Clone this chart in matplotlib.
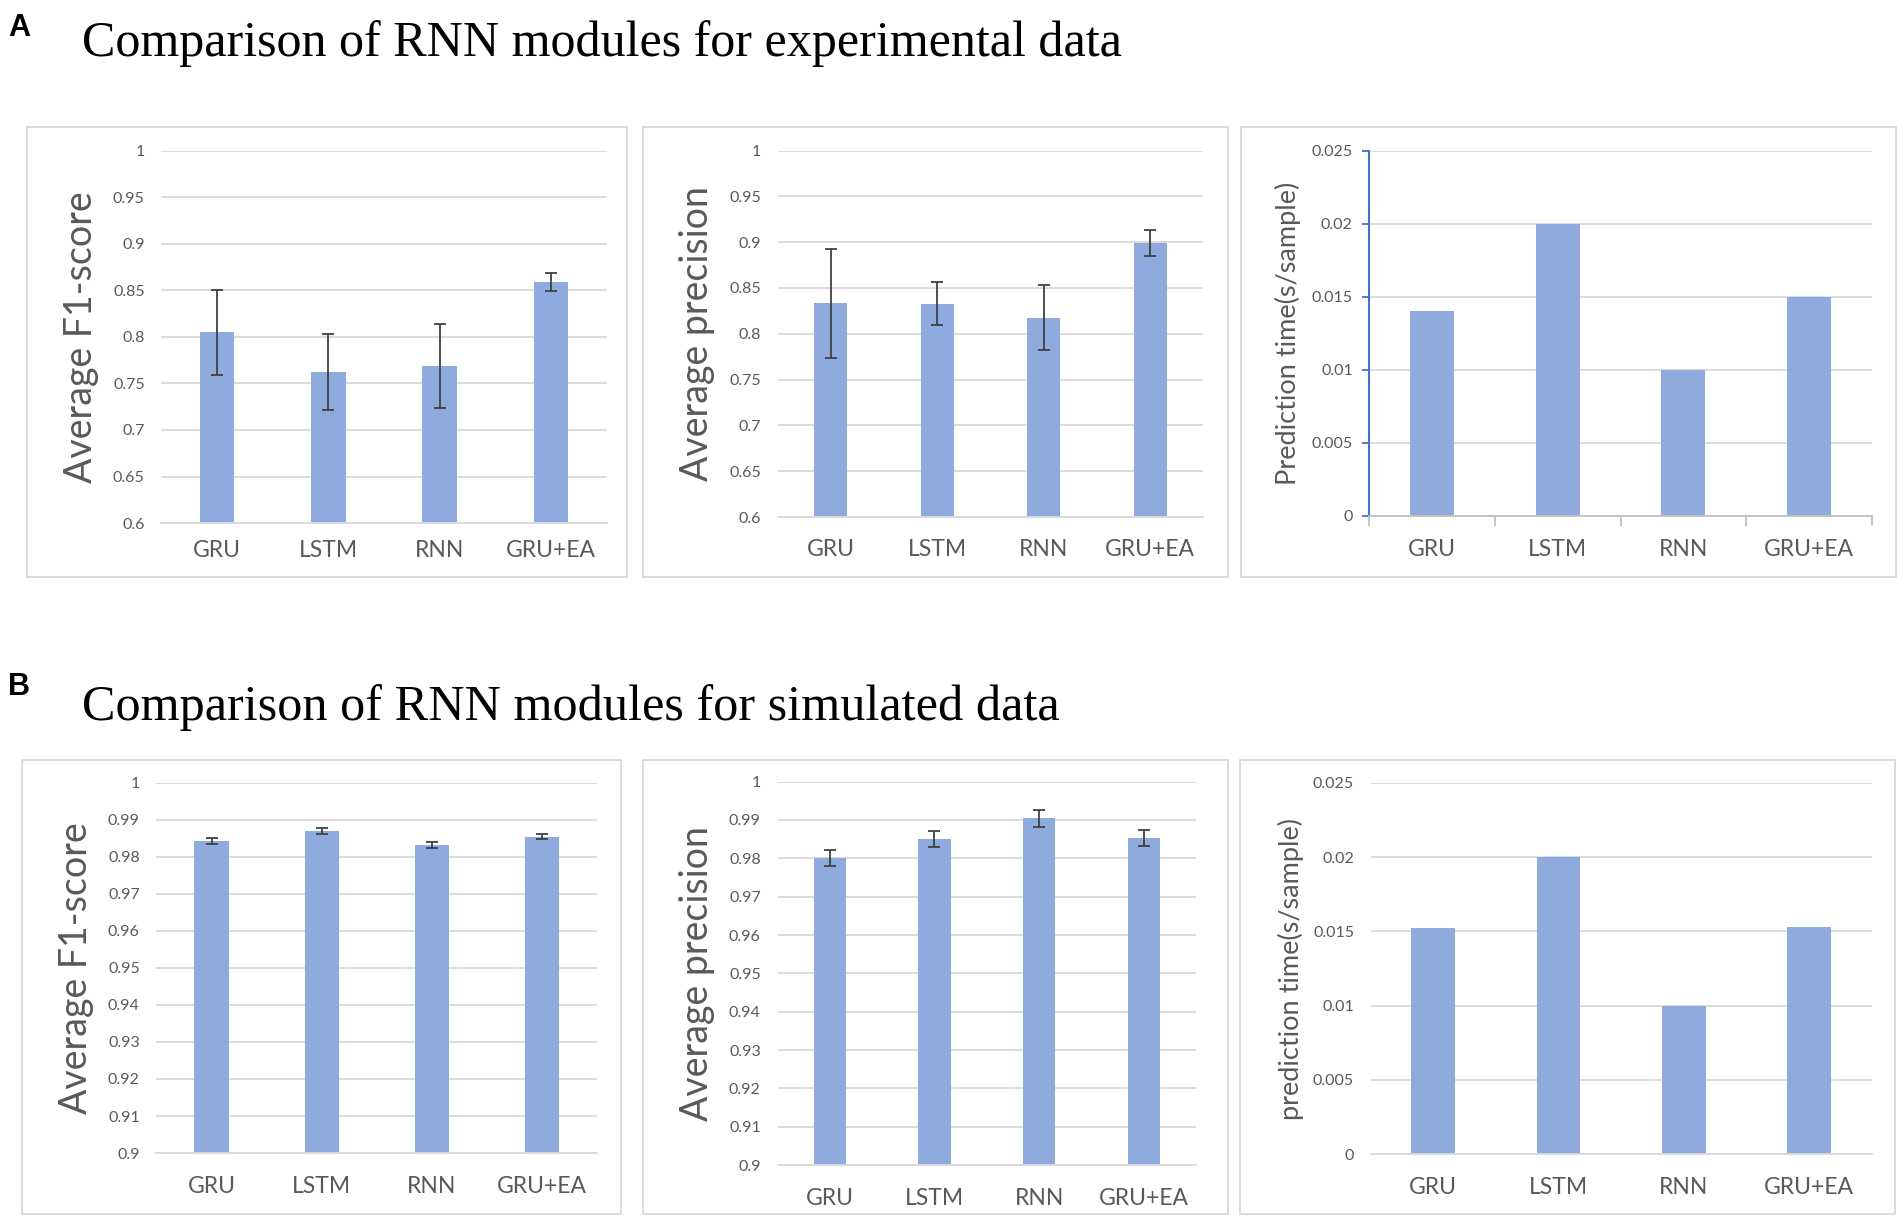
import matplotlib
matplotlib.use('Agg')
import matplotlib.pyplot as plt
from matplotlib.patches import Rectangle
import numpy as np

# ---------------- data ----------------
categories = ['GRU', 'LSTM', 'RNN', 'GRU+EA']

exp_f1 = [0.805, 0.762, 0.769, 0.859]
exp_f1_err = [0.0457, 0.041, 0.045, 0.010]
exp_prec = [0.8334, 0.8327, 0.8174, 0.8991]
exp_prec_err = [0.0593, 0.0233, 0.0356, 0.0146]
exp_time = [0.014, 0.020, 0.010, 0.015]

sim_f1 = [0.9843, 0.9869, 0.9833, 0.9855]
sim_f1_err = [0.0008, 0.0008, 0.0008, 0.0008]
sim_prec = [0.9802, 0.9851, 0.9904, 0.9853]
sim_prec_err = [0.0021, 0.0021, 0.0021, 0.0021]
sim_time = [0.0152, 0.0200, 0.0100, 0.0153]

ticks_exp = [0.6, 0.65, 0.7, 0.75, 0.8, 0.85, 0.9, 0.95, 1.0]
ticklabels_exp = ['0.6', '0.65', '0.7', '0.75', '0.8', '0.85', '0.9', '0.95', '1']
ticks_sim = [0.9, 0.91, 0.92, 0.93, 0.94, 0.95, 0.96, 0.97, 0.98, 0.99, 1.0]
ticklabels_sim = ['0.9', '0.91', '0.92', '0.93', '0.94', '0.95', '0.96', '0.97', '0.98', '0.99', '1']
ticks_time = [0, 0.005, 0.01, 0.015, 0.02, 0.025]
ticklabels_time = ['0', '0.005', '0.01', '0.015', '0.02', '0.025']

title_a = 'Comparison of RNN modules for experimental data'
title_b = 'Comparison of RNN modules for simulated data'

# ---------------- style ----------------
BAR = '#8FAADC'
GRID = '#D9D9D9'
TXT = '#595959'
SANS = ['Lato', 'DejaVu Sans']
SERIF = ['Liberation Serif', 'DejaVu Serif']

W, H = 1568.0, 1006.0  # layout reference space

fig = plt.figure(figsize=(19.02, 12.21), dpi=100)
fig.patch.set_facecolor('white')


def fx(x):
    return x / W


def fy(y):
    return 1 - y / H


def add_box(l, r, t, b):
    fig.patches.append(Rectangle((fx(l), fy(b)), (r - l) / W, (b - t) / H,
                                 transform=fig.transFigure, fill=False,
                                 edgecolor=GRID, lw=1.3))


def panel(box, area, vals, errs, ylim, ticks, tlabels, ylabel, ylab_x,
          ylab_size, width, xpad, time_axis=False):
    add_box(*box)
    l, r, t, b = area
    ax = fig.add_axes([fx(l), fy(b), (r - l) / W, (b - t) / H])
    x = np.arange(len(categories))
    ax.bar(x, vals, width=width, color=BAR, zorder=2)
    if errs is not None:
        ax.errorbar(x, vals, yerr=errs, fmt='none', ecolor='#404040',
                    elinewidth=1.3, capsize=4.5, capthick=1.3, zorder=3)
    ax.set_xlim(-0.5, len(categories) - 0.5)
    ax.set_ylim(*ylim)
    ax.set_yticks(ticks)
    ax.set_yticklabels(tlabels)
    ax.set_xticks(x)
    ax.set_xticklabels(categories)
    ax.grid(axis='y', color=GRID, lw=1.3, zorder=0)
    ax.set_axisbelow(True)
    for s in ['top', 'right', 'left']:
        ax.spines[s].set_visible(False)
    ax.spines['bottom'].set_color(GRID)
    ax.spines['bottom'].set_linewidth(1.3)
    ax.tick_params(axis='y', length=0, pad=12, labelsize=11.5, labelcolor=TXT)
    ax.tick_params(axis='x', length=0, pad=xpad, labelsize=16.5, labelcolor=TXT)
    for lab in ax.get_xticklabels() + ax.get_yticklabels():
        lab.set_family(SANS)
    if time_axis:
        ax.spines['left'].set_visible(True)
        ax.spines['left'].set_color('#4472C4')
        ax.spines['left'].set_linewidth(1.5)
        ax.tick_params(axis='y', length=5, width=1.3, color='#4472C4',
                       direction='out', pad=7)
        ax.set_xticks(np.arange(-0.5, len(categories), 1.0), minor=True)
        ax.tick_params(axis='x', which='minor', length=7, width=1.3,
                       color='#BFBFBF', direction='out')
        ax.spines['bottom'].set_color('#BFBFBF')
    fig.text(fx(ylab_x), fy((t + b) / 2), ylabel, rotation=90, ha='center',
             va='center', fontsize=ylab_size, color=TXT, family=SANS)
    return ax


# Row A
panel((22, 517, 105, 475), (133, 500, 124, 431), exp_f1, exp_f1_err,
      (0.6, 1.0), ticks_exp, ticklabels_exp, 'Average F1-score', 67, 27, 0.31, 12.5)
panel((530, 1012, 105, 475), (641, 992, 124, 426), exp_prec, exp_prec_err,
      (0.6, 1.0), ticks_exp, ticklabels_exp, 'Average precision', 575, 27, 0.31, 16)
panel((1023, 1563, 105, 475), (1129, 1543, 124, 425), exp_time, None,
      (0, 0.025), ticks_time, ticklabels_time, 'Prediction time(s/sample)', 1062, 19.5, 0.35, 17,
      time_axis=True)

# Row B
panel((18, 512, 626, 1000), (129, 492, 645, 950), sim_f1, sim_f1_err,
      (0.9, 1.0), ticks_sim, ticklabels_sim, 'Average F1-score', 63, 27, 0.31, 16.5)
panel((530, 1012, 626, 1000), (641, 986, 644, 960), sim_prec, sim_prec_err,
      (0.9, 1.0), ticks_sim, ticklabels_sim, 'Average precision', 575, 27, 0.31, 16.5)
panel((1022, 1562, 626, 1000), (1130, 1543, 645, 951), sim_time, None,
      (0, 0.025), ticks_time, ticklabels_time, 'prediction time(s/sample)', 1064, 19.5, 0.35, 16.5)

# Titles and panel letters
renderer = fig.canvas.get_renderer()


def fitted_title(txt, x, y, target_w):
    t = fig.text(fx(x), fy(y), txt, ha='left', va='baseline', fontsize=36,
                 family=SERIF, color='black')
    w = t.get_window_extent(renderer=renderer).width
    t.set_fontsize(36 * target_w / w)
    return t


fitted_title(title_a, 68, 46, (925 - 68) / W * 1902)
fitted_title(title_b, 68, 593, (872 - 68) / W * 1902)
fig.text(fx(7), fy(30), 'A', ha='left', va='baseline', fontsize=22,
         fontweight='bold', family=['Liberation Sans', 'DejaVu Sans'])
fig.text(fx(7), fy(573), 'B', ha='left', va='baseline', fontsize=22,
         fontweight='bold', family=['Liberation Sans', 'DejaVu Sans'])

fig.savefig('out.png', dpi=100, facecolor='white')
